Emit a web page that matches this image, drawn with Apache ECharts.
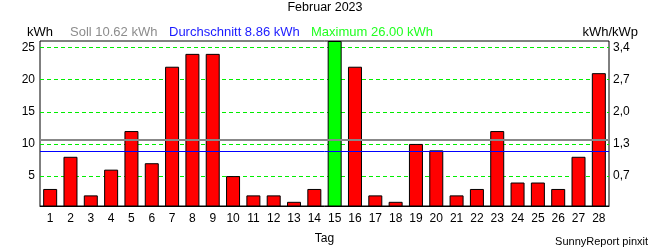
<!DOCTYPE html>
<html><head><meta charset="utf-8">
<script src="https://cdn.jsdelivr.net/npm/echarts@6/dist/echarts.min.js"></script>
<style>html,body{margin:0;padding:0;background:#fff}#c{width:650px;height:250px}</style>
</head><body><div id="c"></div>
<script>
const days = ['1','2','3','4','5','6','7','8','9','10','11','12','13','14','15','16','17','18','19','20','21','22','23','24','25','26','27','28'];
const energy = [3,8,2,6,12,7,22,24,24,5,2,2,1,3,26,22,2,1,10,9,2,3,12,4,4,3,8,21];
const leftTicks = [5,10,15,20,25];
const rightTickLabels = ['0,7','1,3','2,0','2,7','3,4'];
const sollValue = 10.62;
const averageValue = 8.86;
const maxValue = 26.00;
const titleText = 'Februar 2023';

const FONT = '"Liberation Sans", Arial, sans-serif';
const chart = echarts.init(document.getElementById('c'), null, {renderer: 'canvas'});

const barData = energy.map(v => v === maxValue
  ? {value: v, itemStyle: {color: '#00ff00'}}
  : v);

function ttl(text, pos, color, size) {
  return Object.assign({
    text: text, padding: 0,
    textStyle: {fontSize: size || 13, fontWeight: 'normal', fontFamily: FONT, color: color || '#000'}
  }, pos);
}

chart.setOption({
  animation: false,
  backgroundColor: '#fff',
  title: [
    ttl(titleText, {left: 'center', top: 1}, '#000', 12.5),
    ttl('kWh', {left: 27, top: 25.5}),
    ttl('Soll ' + sollValue.toFixed(2) + ' kWh', {left: 70, top: 25.5}, '#8c8c8c'),
    ttl('Durchschnitt ' + averageValue.toFixed(2) + ' kWh', {left: 169, top: 25.5}, '#1a1aff'),
    ttl('Maximum ' + maxValue.toFixed(2) + ' kWh', {left: 311, top: 25.5}, '#22ff22'),
    ttl('kWh/kWp', {right: 12, top: 25.5}),
    ttl('SunnyReport pinxit', {right: 2, top: 236.5}, '#000', 11)
  ],
  grid: {left: 40, right: 41, top: 41, bottom: 41, show: true, borderColor: '#000', borderWidth: 1, backgroundColor: 'transparent'},
  xAxis: {
    type: 'category', data: days,
    axisLine: {show: true, lineStyle: {color: '#000'}},
    axisTick: {show: false},
    axisLabel: {color: '#000', fontSize: 12, fontFamily: FONT, margin: 7, interval: 0},
    name: 'Tag', nameLocation: 'middle', nameGap: 27,
    nameTextStyle: {color: '#000', fontSize: 12, fontFamily: FONT}
  },
  yAxis: [
    {
      type: 'value', min: 0.35, max: 26, position: 'left',
      axisLine: {show: false},
      axisTick: {show: false, customValues: leftTicks},
      axisLabel: {customValues: leftTicks, color: '#000', fontSize: 12, fontFamily: FONT, margin: 5},
      splitLine: {show: true, lineStyle: {color: '#00ee00', type: [4, 3], width: 1}}
    },
    {
      type: 'value', min: 0.35, max: 26, position: 'right',
      axisLine: {show: false},
      axisTick: {show: false, customValues: leftTicks},
      axisLabel: {customValues: leftTicks, color: '#000', fontSize: 12, fontFamily: FONT, margin: 4,
        formatter: v => rightTickLabels[leftTicks.indexOf(v)] || ''},
      splitLine: {show: false}
    }
  ],
  series: [{
    type: 'bar', data: barData, barWidth: 14,
    itemStyle: {color: '#ff0000', borderColor: '#000', borderWidth: 1},
    markLine: {
      silent: true, symbol: 'none', label: {show: false},
      data: [
        {yAxis: sollValue, lineStyle: {color: '#888888', width: 2, type: 'solid'}},
        {yAxis: averageValue, lineStyle: {color: '#0000ff', width: 1, type: 'solid'}}
      ]
    }
  }]
});
</script></body></html>
